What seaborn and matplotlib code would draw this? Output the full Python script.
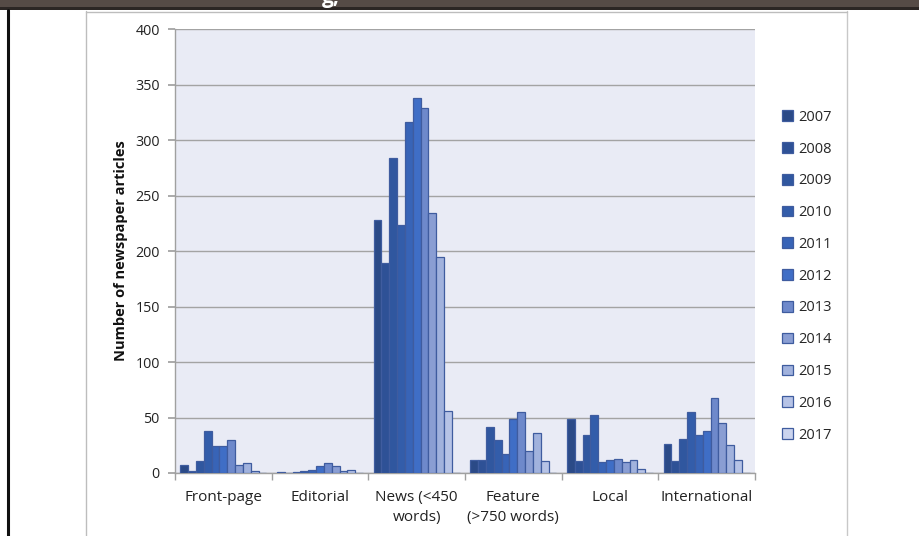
import matplotlib
matplotlib.use("Agg")
import matplotlib.pyplot as plt
from matplotlib.patches import Rectangle
from matplotlib.lines import Line2D
import seaborn as sns
import pandas as pd

# Article counts per category and year
years = ["2007", "2008", "2009", "2010", "2011", "2012",
         "2013", "2014", "2015", "2016", "2017"]
categories = ["Front-page", "Editorial", "News (<450\nwords)",
              "Feature\n(>750 words)", "Local", "International"]
front_page = [7, 2, 11, 38, 24, 24, 30, 7, 9, 2, 0]
editorial = [1, 0, 1, 2, 3, 6, 9, 6, 2, 3, 0]
news = [228, 189, 284, 223, 316, 338, 329, 234, 195, 56, 0]
feature = [12, 12, 41, 30, 17, 49, 55, 20, 36, 11, 0]
local = [49, 11, 34, 52, 10, 12, 13, 10, 12, 4, 0]
international = [26, 11, 31, 55, 34, 38, 68, 45, 25, 12, 0]

series = [front_page, editorial, news, feature, local, international]
rows = []
for cat, vals in zip(categories, series):
    for yr, v in zip(years, vals):
        rows.append({"category": cat, "year": yr, "count": v})
df = pd.DataFrame(rows)

year_colors = ["#2b4a87", "#2e5196", "#30579f", "#335daa", "#3864b7",
               "#3f6ec6", "#6e89cb", "#8a9ed3", "#a1b2dd", "#b6c3e6",
               "#cbd4ee"]

sns.set_theme(style="white")
plt.rcParams["font.family"] = ["Open Sans", "DejaVu Sans"]

W, H = 919, 536
fig = plt.figure(figsize=(W / 100, H / 100), dpi=100)
fig.patch.set_facecolor("white")

# Window chrome: dark strip along the top, borders of the chart frame
fig.patches.append(Rectangle((0, 1 - 8 / H), 1, 8 / H, transform=fig.transFigure,
                             facecolor="#564b46", edgecolor="none", zorder=0))
fig.patches.append(Rectangle((0, 1 - 10 / H), 1, 3 / H, transform=fig.transFigure,
                             facecolor="#2c2624", edgecolor="none", zorder=0))
fig.lines.append(Line2D([8 / W, 8 / W], [0, 1 - 10 / H], transform=fig.transFigure,
                        color="#111111", lw=2.2))
fig.lines.append(Line2D([86 / W, 86 / W], [0, 1 - 11 / H], transform=fig.transFigure,
                        color="#bdbdbd", lw=1))
fig.lines.append(Line2D([847 / W, 847 / W], [0, 1 - 11 / H], transform=fig.transFigure,
                        color="#c8c8c8", lw=1))
fig.lines.append(Line2D([86 / W, 847 / W], [1 - 11.5 / H, 1 - 11.5 / H],
                        transform=fig.transFigure, color="#bdbdbd", lw=1))
fig.text(322 / W, 1 - 3 / H, "g,", color="white", fontsize=15, fontweight="bold",
         va="baseline", ha="left")

left, right, top, bottom = 175, 755, 29, 473
ax = fig.add_axes([left / W, 1 - bottom / H, (right - left) / W, (bottom - top) / H])
ax.set_facecolor("#e9ebf5")

sns.barplot(data=df, x="category", y="count", hue="year", palette=year_colors,
            width=0.89, gap=0, edgecolor="#3f5c9f", linewidth=0.9,
            saturation=1, errorbar=None, ax=ax, zorder=3)

ax.set_ylim(0, 400)
ax.set_xlim(-0.5, 5.5)
ax.set_yticks(range(0, 401, 50))
ax.yaxis.grid(True, color="#a3a3a3", lw=1)
ax.set_axisbelow(True)
for s in ["top", "right"]:
    ax.spines[s].set_visible(False)
for s in ["left", "bottom"]:
    ax.spines[s].set_color("#a0a0a0")
    ax.spines[s].set_linewidth(1)

ax.tick_params(axis="y", length=5, color="#a0a0a0", labelsize=10.3,
               labelcolor="#222222", pad=6, left=True)
ax.set_xticks(range(6))
ax.set_xticklabels(categories, fontsize=11, color="#222222", linespacing=1.5)
ax.set_xticks([i - 0.5 for i in range(7)], minor=True)
ax.tick_params(axis="x", which="major", length=0, pad=12)
ax.tick_params(axis="x", which="minor", length=5, color="#a0a0a0", bottom=True)
ax.set_xlabel("")
ax.set_ylabel("Number of newspaper articles", fontsize=10.5, fontweight="bold",
              color="#111111", labelpad=5)

handles, labels = ax.get_legend_handles_labels()
ax.get_legend().remove()
fig.legend(handles, labels, loc="upper left", bbox_to_anchor=(776 / W, 1 - 104 / H),
           frameon=False, fontsize=10.5, handlelength=0.75, handleheight=0.75,
           handletextpad=0.35, labelspacing=1.15, borderaxespad=0)

fig.savefig("out.png", dpi=100)
